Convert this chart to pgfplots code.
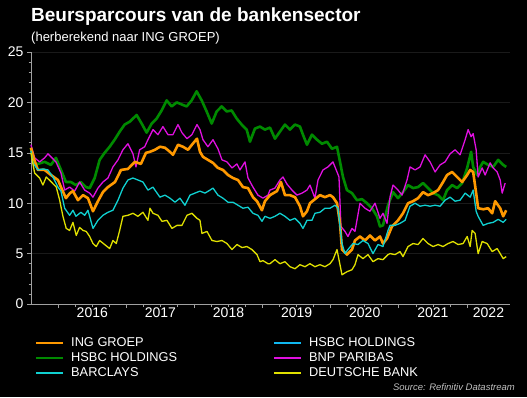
\documentclass[border=0pt]{standalone}
\usepackage{pgfplots}
\pgfplotsset{compat=1.18}
\usepackage{fontspec}
\setmainfont{Liberation Sans}
\definecolor{ingor}{HTML}{FF9900}
\definecolor{hsbcgr}{HTML}{008A00}
\definecolor{bnpmag}{HTML}{E010E0}
\definecolor{barcy}{HTML}{10D0D0}
\definecolor{dbyel}{HTML}{E0E000}
\definecolor{hsbcbl}{HTML}{10B8F0}
\definecolor{axgray}{HTML}{A0A0A0}
\definecolor{gridc}{HTML}{1A1A1A}
\begin{document}
\begin{tikzpicture}
\useasboundingbox (0,0) rectangle (527pt,397pt);
\fill[black] (0,0) rectangle (527pt,397pt);
\node[anchor=base west, inner sep=0, text=white, font=\bfseries\fontsize{19}{22}\selectfont] at (31pt,375.3pt) {Beursparcours van de bankensector};
\node[anchor=base west, inner sep=0, text=white, font=\fontsize{13}{15}\selectfont] at (31pt,355.3pt) {(herberekend naar ING GROEP)};
\node[anchor=base east, inner sep=0, text=white!75!black, font=\itshape\fontsize{9.5}{11}\selectfont] at (515pt,6.5pt) {Source: Refinitiv Datastream};
\begin{axis}[
  at={(31pt,93pt)}, anchor=south west,
  width=479pt, height=252pt, scale only axis,
  xmin=2015.6, xmax=2022.633, ymin=0, ymax=25,
  axis lines*=left,
  axis line style={axgray, line width=0.8pt},
  tick align=outside,
  tick style={axgray, line width=0.6pt},
  major tick length=4pt, minor tick length=2.5pt,
  xtick={2016,2017,2018,2019,2020,2021,2022},
  xticklabels={},
  minor x tick num=3,
  extra x ticks={2016.5,2017.5,2018.5,2019.5,2020.5,2021.5,2022.317},
  extra x tick labels={2016,2017,2018,2019,2020,2021,2022},
  extra x tick style={major tick length=0pt, minor x tick num=0},
  ytick={0,5,10,15,20,25},
  minor y tick num=4,
  ymajorgrids, grid style={gridc, line width=0.6pt},
  ticklabel style={text=white, font=\fontsize{14}{16}\selectfont},
  /pgf/number format/assume math mode=true,
  clip=false,
  legend columns=2,
  legend image code/.code={\draw[#1, line width=2pt] (0pt,0pt) -- (27pt,0pt);},
  legend style={at={(0.00835,-0.1258)}, anchor=north west, draw=none, fill=none,
    inner sep=0pt, text=white, font=\fontsize{12.8}{14}\selectfont,
    cells={anchor=west},
    nodes={inner xsep=3pt, inner ysep=1.5pt, text height=9pt, text depth=3pt},
    /tikz/every odd column/.append style={column sep=4pt},
    /tikz/every even column/.append style={column sep=93pt}},
]
% HSBC (green)
\addplot[hsbcgr, line width=2.6pt, line join=round, forget plot] coordinates {
(2015.599,15.5)(2015.653,13.8)(2015.800,14.1)(2015.893,13.8)(2015.966,14.5)(2016.040,13.3)(2016.113,12.1)(2016.186,12.1)(2016.260,11.8)(2016.333,12.1)(2016.407,11.6)(2016.461,11.5)(2016.535,12.5)(2016.608,14.3)(2016.681,15.0)(2016.755,15.6)(2016.828,16.3)(2016.902,17.1)(2016.975,17.8)(2017.053,18.1)(2017.151,18.75)(2017.225,17.9)(2017.298,17.0)(2017.372,17.9)(2017.445,18.4)(2017.518,19.2)(2017.592,20.2)(2017.665,19.6)(2017.739,20.0)(2017.812,19.8)(2017.885,19.6)(2017.959,20.2)(2018.032,21.1)(2018.106,20.2)(2018.179,19.1)(2018.253,17.9)(2018.326,19.1)(2018.399,19.6)(2018.473,19.1)(2018.546,19.2)(2018.620,18.4)(2018.693,17.8)(2018.767,17.3)(2018.815,16.1)(2018.888,17.4)(2018.962,17.6)(2019.035,17.3)(2019.109,17.5)(2019.182,16.4)(2019.255,17.1)(2019.329,17.8)(2019.402,17.3)(2019.476,17.8)(2019.549,17.6)(2019.593,16.8)(2019.652,15.8)(2019.725,16.8)(2019.799,16.3)(2019.872,15.9)(2019.946,16.1)(2020.019,15.4)(2020.093,15.6)(2020.137,14.1)(2020.181,12.6)(2020.239,11.3)(2020.313,11.0)(2020.386,10.3)(2020.460,10.4)(2020.533,10.0)(2020.607,9.5)(2020.680,8.7)(2020.724,7.7)(2020.768,7.8)(2020.842,9.8)(2020.915,11.1)(2020.989,10.5)(2021.062,11.1)(2021.136,11.8)(2021.209,11.5)(2021.283,11.6)(2021.356,12.0)(2021.430,11.5)(2021.503,11.0)(2021.577,10.8)(2021.650,10.3)(2021.709,11.3)(2021.783,11.8)(2021.856,11.5)(2021.930,12.0)(2022.004,13.5)(2022.062,15.1)(2022.092,13.6)(2022.150,12.8)(2022.195,13.6)(2022.239,14.1)(2022.312,13.8)(2022.386,13.6)(2022.459,14.3)(2022.533,13.8)(2022.577,13.6)
};
% BNP (magenta)
\addplot[bnpmag, line width=1.3pt, line join=round, forget plot] coordinates {
(2015.599,15.8)(2015.653,14.5)(2015.727,14.1)(2015.800,14.5)(2015.849,14.9)(2015.893,14.6)(2015.966,14.1)(2016.040,13.0)(2016.094,11.3)(2016.167,11.6)(2016.241,11.2)(2016.314,12.1)(2016.388,11.3)(2016.461,11.0)(2016.510,10.6)(2016.583,11.5)(2016.656,12.1)(2016.730,12.5)(2016.803,13.6)(2016.877,14.3)(2016.950,15.3)(2017.023,15.9)(2017.097,14.9)(2017.141,13.6)(2017.195,15.3)(2017.269,15.6)(2017.317,16.3)(2017.391,17.3)(2017.464,16.8)(2017.537,17.6)(2017.611,16.8)(2017.684,16.8)(2017.758,17.8)(2017.816,17.0)(2017.890,16.4)(2017.963,16.8)(2018.037,17.8)(2018.081,17.3)(2018.125,16.3)(2018.198,15.6)(2018.272,16.3)(2018.345,15.4)(2018.404,14.3)(2018.477,14.1)(2018.551,13.5)(2018.624,13.9)(2018.668,13.3)(2018.742,14.1)(2018.786,12.5)(2018.859,11.6)(2018.932,10.8)(2019.006,10.5)(2019.079,10.8)(2019.109,11.3)(2019.182,11.5)(2019.255,12.3)(2019.300,12.6)(2019.358,11.9)(2019.432,11.3)(2019.505,10.8)(2019.579,11.0)(2019.652,11.3)(2019.696,11.8)(2019.769,10.5)(2019.814,12.3)(2019.887,13.3)(2019.960,13.6)(2020.034,14.1)(2020.093,13.1)(2020.122,12.6)(2020.151,7.7)(2020.210,7.2)(2020.254,6.7)(2020.313,7.5)(2020.357,7.2)(2020.430,10.0)(2020.504,9.5)(2020.577,9.2)(2020.651,10.0)(2020.724,8.5)(2020.768,9.0)(2020.827,8.0)(2020.871,10.6)(2020.915,11.8)(2020.989,11.3)(2021.048,10.8)(2021.121,12.3)(2021.165,13.6)(2021.239,13.3)(2021.312,13.6)(2021.386,14.8)(2021.459,14.1)(2021.533,13.1)(2021.606,13.8)(2021.680,14.1)(2021.753,14.9)(2021.827,15.3)(2021.900,14.8)(2021.974,16.3)(2022.018,17.3)(2022.062,16.6)(2022.092,16.9)(2022.136,15.3)(2022.165,12.6)(2022.224,13.5)(2022.268,12.8)(2022.341,14.0)(2022.386,13.5)(2022.444,13.1)(2022.489,12.3)(2022.518,11.0)(2022.562,12.0)
};
% ING (orange)
\addplot[ingor, line width=2.6pt, line join=round, forget plot] coordinates {
(2015.599,15.5)(2015.653,14.2)(2015.702,13.3)(2015.800,13.3)(2015.893,12.8)(2015.996,12.3)(2016.040,11.6)(2016.113,10.5)(2016.172,11.0)(2016.216,11.2)(2016.289,10.3)(2016.363,10.8)(2016.436,10.5)(2016.510,9.2)(2016.583,10.2)(2016.656,11.1)(2016.730,11.6)(2016.833,12.1)(2016.921,13.3)(2017.023,13.4)(2017.126,14.1)(2017.214,13.9)(2017.288,15.0)(2017.347,15.1)(2017.420,15.3)(2017.493,15.6)(2017.567,15.5)(2017.640,15.1)(2017.684,14.8)(2017.758,15.8)(2017.831,15.6)(2017.905,15.3)(2017.963,15.8)(2018.037,16.4)(2018.081,15.1)(2018.125,14.6)(2018.198,14.3)(2018.272,14.0)(2018.345,13.5)(2018.418,13.3)(2018.492,12.8)(2018.565,12.5)(2018.639,12.3)(2018.712,11.6)(2018.786,11.5)(2018.859,10.6)(2018.918,10.2)(2018.991,9.3)(2019.035,10.2)(2019.109,10.8)(2019.211,11.2)(2019.270,12.1)(2019.329,10.8)(2019.402,10.8)(2019.476,10.6)(2019.549,9.7)(2019.593,8.7)(2019.652,9.2)(2019.696,10.0)(2019.769,10.4)(2019.843,10.8)(2019.916,10.6)(2019.990,10.8)(2020.034,10.6)(2020.093,10.0)(2020.137,8.0)(2020.166,5.4)(2020.239,4.9)(2020.313,5.4)(2020.357,6.3)(2020.430,6.7)(2020.504,6.3)(2020.577,6.8)(2020.651,6.3)(2020.724,6.7)(2020.768,6.0)(2020.827,6.5)(2020.900,7.7)(2020.989,8.3)(2021.062,9.0)(2021.136,10.0)(2021.209,10.2)(2021.283,10.5)(2021.356,11.1)(2021.430,10.8)(2021.503,11.0)(2021.577,11.3)(2021.650,12.1)(2021.709,12.8)(2021.783,13.1)(2021.856,12.6)(2021.930,12.1)(2022.004,12.8)(2022.048,13.3)(2022.092,13.1)(2022.136,11.0)(2022.165,9.5)(2022.239,9.4)(2022.312,9.5)(2022.371,9.0)(2022.415,10.2)(2022.489,9.5)(2022.533,8.7)(2022.577,9.3)
};
% BARCLAYS (cyan)
\addplot[barcy, line width=1.3pt, line join=round, forget plot] coordinates {
(2015.599,15.2)(2015.628,14.0)(2015.702,13.3)(2015.775,13.4)(2015.849,13.3)(2015.922,12.6)(2015.996,11.6)(2016.040,11.2)(2016.094,9.5)(2016.167,8.8)(2016.216,9.3)(2016.260,8.7)(2016.333,9.1)(2016.388,8.8)(2016.436,9.3)(2016.510,7.5)(2016.583,8.3)(2016.656,8.8)(2016.730,9.1)(2016.803,9.3)(2016.877,10.3)(2016.950,11.5)(2017.023,12.3)(2017.097,12.5)(2017.170,12.3)(2017.244,12.1)(2017.317,11.3)(2017.391,11.6)(2017.420,11.3)(2017.493,10.6)(2017.567,10.8)(2017.640,10.5)(2017.714,10.1)(2017.787,10.5)(2017.860,9.8)(2017.934,10.8)(2018.007,11.0)(2018.081,11.2)(2018.154,11.0)(2018.228,11.3)(2018.272,11.5)(2018.345,10.8)(2018.418,10.5)(2018.492,10.1)(2018.565,10.1)(2018.639,9.8)(2018.712,9.5)(2018.786,9.6)(2018.859,9.0)(2018.932,8.8)(2018.991,8.2)(2019.035,8.7)(2019.109,8.5)(2019.182,8.7)(2019.255,9.0)(2019.329,8.7)(2019.402,8.3)(2019.476,8.5)(2019.549,8.0)(2019.593,7.5)(2019.652,8.3)(2019.725,8.3)(2019.769,9.0)(2019.843,9.1)(2019.916,9.5)(2019.990,9.5)(2020.063,9.8)(2020.107,9.5)(2020.166,6.0)(2020.210,5.0)(2020.254,5.4)(2020.327,6.0)(2020.401,5.9)(2020.474,6.3)(2020.548,6.0)(2020.621,5.0)(2020.695,5.9)(2020.768,5.7)(2020.842,7.3)(2020.871,7.8)(2020.945,7.8)(2021.018,8.0)(2021.092,8.3)(2021.165,9.7)(2021.239,10.0)(2021.312,9.7)(2021.386,9.8)(2021.459,9.7)(2021.533,9.8)(2021.606,9.7)(2021.680,10.3)(2021.753,10.6)(2021.827,10.2)(2021.900,10.3)(2021.974,11.0)(2022.048,10.6)(2022.092,11.3)(2022.136,9.2)(2022.165,8.7)(2022.239,7.8)(2022.312,8.0)(2022.386,8.1)(2022.459,8.4)(2022.533,8.1)(2022.577,8.4)
};
% DEUTSCHE BANK (yellow)
\addplot[dbyel, line width=1.3pt, line join=round, forget plot] coordinates {
(2015.599,15.0)(2015.653,13.0)(2015.727,12.5)(2015.775,11.8)(2015.824,12.6)(2015.900,12.1)(2015.971,11.6)(2016.021,10.3)(2016.069,8.7)(2016.117,7.5)(2016.167,7.3)(2016.216,8.1)(2016.264,6.8)(2016.314,7.6)(2016.363,7.3)(2016.411,7.2)(2016.461,6.7)(2016.510,6.0)(2016.558,5.7)(2016.608,6.3)(2016.681,5.9)(2016.755,5.5)(2016.803,6.3)(2016.852,6.0)(2016.902,7.3)(2016.950,8.7)(2017.023,8.8)(2017.097,9.0)(2017.170,8.7)(2017.244,9.1)(2017.317,8.3)(2017.347,9.5)(2017.391,9.0)(2017.464,8.8)(2017.523,8.2)(2017.596,8.3)(2017.670,7.5)(2017.743,7.8)(2017.816,7.8)(2017.890,8.8)(2017.963,9.0)(2018.037,8.5)(2018.081,8.3)(2018.110,7.0)(2018.184,7.2)(2018.257,6.3)(2018.330,6.2)(2018.404,6.3)(2018.477,6.0)(2018.551,5.4)(2018.624,5.9)(2018.698,5.6)(2018.771,5.7)(2018.844,5.4)(2018.918,4.9)(2018.962,4.2)(2019.006,4.3)(2019.079,4.0)(2019.109,4.0)(2019.182,4.4)(2019.255,4.0)(2019.329,4.2)(2019.402,3.7)(2019.476,3.5)(2019.549,3.9)(2019.623,3.7)(2019.696,4.0)(2019.769,3.7)(2019.843,3.9)(2019.916,3.7)(2019.990,4.0)(2020.034,4.4)(2020.093,5.4)(2020.122,4.4)(2020.166,2.9)(2020.239,3.2)(2020.313,3.4)(2020.357,3.9)(2020.401,4.9)(2020.474,4.5)(2020.548,4.9)(2020.621,4.2)(2020.695,4.5)(2020.768,4.4)(2020.842,4.9)(2020.871,5.0)(2020.945,4.9)(2021.018,5.2)(2021.062,4.7)(2021.136,5.7)(2021.209,6.0)(2021.283,5.9)(2021.356,6.5)(2021.430,6.0)(2021.503,5.7)(2021.577,5.9)(2021.650,5.7)(2021.724,6.0)(2021.797,6.2)(2021.871,5.9)(2021.944,6.0)(2022.004,6.7)(2022.048,5.7)(2022.077,7.3)(2022.121,7.0)(2022.165,5.0)(2022.224,6.2)(2022.297,6.0)(2022.371,5.2)(2022.444,5.5)(2022.489,5.0)(2022.533,4.5)(2022.577,4.7)
};
\addlegendimage{ingor}
\addlegendentry{ING GROEP}
\addlegendimage{hsbcbl}
\addlegendentry{HSBC HOLDINGS}
\addlegendimage{hsbcgr}
\addlegendentry{HSBC HOLDINGS}
\addlegendimage{bnpmag}
\addlegendentry{BNP PARIBAS}
\addlegendimage{barcy}
\addlegendentry{BARCLAYS}
\addlegendimage{dbyel}
\addlegendentry{DEUTSCHE BANK}
\end{axis}
\end{tikzpicture}
\end{document}
